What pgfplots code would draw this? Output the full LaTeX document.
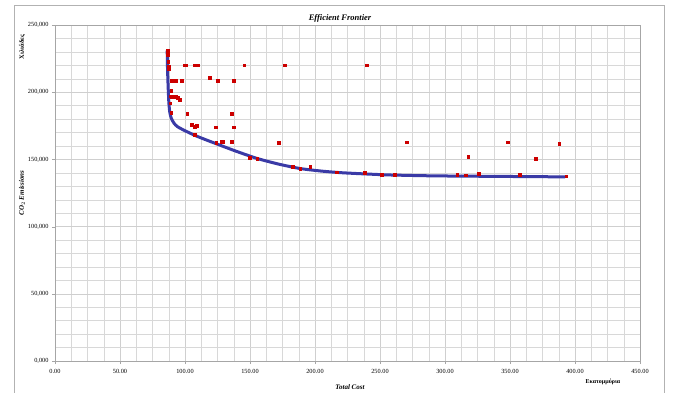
\documentclass[border=0pt]{standalone}
\usepackage{fontspec}
\setmainfont{Liberation Serif}
\usepackage{pgfplots}
\pgfplotsset{compat=1.18}
\definecolor{frontier}{HTML}{3A3AA6}
\definecolor{pts}{HTML}{CC0000}
\definecolor{gridc}{HTML}{CFCFCF}
\begin{document}
\begin{tikzpicture}[x=1pt,y=1pt]
\useasboundingbox (0,0) rectangle (673,392);
\draw[gray!60, line width=0.8pt] (14,-2) -- (14,387) -- (664,387) -- (664,-2);
\begin{axis}[
  at={(55pt,31pt)}, anchor=south west,
  scale only axis, width=585pt, height=336pt,
  xmin=0, xmax=450, ymin=0, ymax=250,
  xtick={0,50,...,450}, ytick={0,50,...,250},
  minor x tick num=3, minor y tick num=4,
  grid=both,
  major grid style={gridc, line width=0.5pt},
  minor grid style={gridc!80, line width=0.4pt},
  axis line style={gray!70},
  tick style={gray!70},
  tick align=outside, xtick pos=bottom, ytick pos=left,
  major tick length=3pt, minor tick length=0pt,
  xticklabels={0.00,50.00,100.00,150.00,200.00,250.00,300.00,350.00,400.00,450.00},
  yticklabels={0{,}000,50{,}000,100{,}000,150{,}000,200{,}000,250{,}000},
  xticklabel style={font=\fontsize{6.3}{7}\selectfont, yshift=-2pt},
  yticklabel style={font=\fontsize{6.3}{7}\selectfont},
  /pgf/number format/assume math mode=true,
  clip=false,
]
\addplot[frontier, line width=3pt, smooth, tension=0.4] coordinates {
(86.3,231) (86.5,220) (86.8,210) (87.2,200) (87.6,192) (88.3,185)
(89.5,180.5) (91.5,177) (94,174.5) (99,171.8) (109,167.3) (122,162.4)
(139,156.2) (155.5,150.7) (172,146.5) (188.6,143.2) (205,141.3)
(222,140) (255,138.5) (288,137.8) (321,137.5) (392.5,137)
};
\addplot[only marks, mark=square*, mark size=1.3pt, color=pts] coordinates {
(86.7,231.4) (86.7,229) (86.7,227.6) (87,222.7) (87.5,219) (87.5,217)
(99.3,220) (100.5,220) (107.5,220) (110,220) (145.6,220) (176.7,220) (239.6,220)
(89.3,208.5) (91,208.5) (92.7,208.5) (97.6,208.5) (119,211) (125,208.5) (137.3,208.5)
(89.3,201) (88.5,197) (90,196.5) (91.5,197) (93,196.5) (94.5,196) (96,194.6)
(88.7,191.7) (89.3,184.7) (101.6,184.2) (135.7,184.2)
(105.2,176) (107.5,174.3) (109.2,175) (123.4,174) (137.3,174)
(107.5,168.6) (124,162.4) (128.4,163.1) (129.5,163.3) (136,163.1)
(172,162.4) (270.7,162.9) (348.4,162.9) (387.8,161.9)
(149.6,151.2) (155.5,150.4) (317.7,152.2) (370,150.7)
(183,144.5) (188.6,143.2) (196.2,144.5) (216.7,140.5) (238.3,140)
(251.5,138.8) (261.4,138.8) (309.4,138.5) (316,138.3) (326,139.3)
(357.4,138.8) (393.1,137.5)
};
\end{axis}
\node[font=\fontsize{8.5}{10}\selectfont\bfseries\itshape] at (340,374) {Efficient Frontier};
\node[font=\fontsize{7}{8}\selectfont\bfseries\itshape] at (350,5) {Total Cost};
\node[font=\fontsize{6}{7}\selectfont\bfseries] at (603,10) {Εκατομμύρια};
\node[font=\fontsize{6.5}{7}\selectfont\bfseries, rotate=90] at (22,345) {Χιλιάδες};
\node[font=\fontsize{7}{8}\selectfont\bfseries\itshape, rotate=90] at (22,199) {CO$_2$ Emissions};
\end{tikzpicture}
\end{document}
